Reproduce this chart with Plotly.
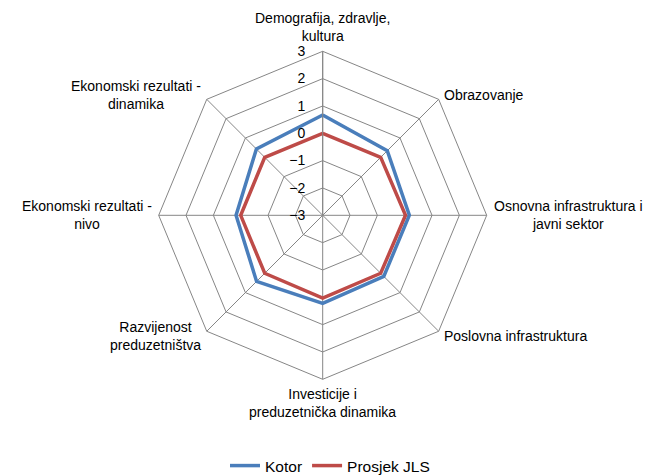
import math
import plotly.graph_objects as go

categories = [
    "Demografija, zdravlje,<br>kultura",
    "Obrazovanje",
    "Osnovna infrastruktura i<br>javni sektor",
    "Poslovna infrastruktura",
    "Investicije i<br>preduzetnička dinamika",
    "Razvijenost<br>preduzetništva",
    "Ekonomski rezultati -<br>nivo",
    "Ekonomski rezultati -<br>dinamika",
]
kotor = [0.67, 0.34, 0.17, 0.16, 0.22, 0.42, 0.17, 0.43]
prosjek = [0.0, 0.0, 0.03, 0.0, 0.03, 0.0, 0.0, 0.0]
radial_ticks = [-3, -2, -1, 0, 1, 2, 3]

fig = go.Figure()
fig.add_trace(go.Scatterpolar(
    r=kotor + kotor[:1], theta=categories + categories[:1],
    mode="lines", name="Kotor",
    line=dict(color="#4A7EBB", width=3.5),
))
fig.add_trace(go.Scatterpolar(
    r=prosjek + prosjek[:1], theta=categories + categories[:1],
    mode="lines", name="Prosjek JLS",
    line=dict(color="#BE4B48", width=3.5),
))

# page body has an 8px margin; compensate so the chart lands where the reference has it
off = 8
W, H = 660, 475
cx, cy, R = 322.7, 215.3, 164  # page-pixel geometry of the radar


def to_paper(px, py):
    return (px - off) / W, (H - (py - off)) / H


x0, y0 = to_paper(cx - R, cy + R)
x1, y1 = to_paper(cx + R, cy - R)

# category labels: centred text blocks placed just outside each spoke's outer vertex
annotations = []
n = len(categories)
pad = 6
for i, cat in enumerate(categories):
    ang = math.radians(90 - i * 360 / n)
    c, s = math.cos(ang), math.sin(ang)
    px = cx + (R + pad) * c
    py = cy - (R + pad) * s
    xa = "left" if c > 0.1 else ("right" if c < -0.1 else "center")
    ya = "bottom" if s > 0.9 else ("top" if s < -0.9 else "middle")
    ax_, ay_ = to_paper(px, py)
    annotations.append(dict(
        text=cat, x=ax_, y=ay_, xref="paper", yref="paper",
        xanchor=xa, yanchor=ya, align="center", showarrow=False,
        font=dict(size=14), borderpad=0,
    ))

fig.update_layout(
    width=W, height=H,
    margin=dict(l=0, r=0, t=0, b=0),
    paper_bgcolor="white",
    font=dict(family="Liberation Sans, Arial, sans-serif", color="#000000", size=14),
    annotations=annotations,
    polar=dict(
        domain=dict(x=[x0, x1], y=[y0, y1]),
        gridshape="linear",
        bgcolor="white",
        radialaxis=dict(
            range=[-3, 3], tickvals=radial_ticks, angle=90, tickangle=90,
            side="counterclockwise",
            showline=True, linecolor="#868686", linewidth=1,
            gridcolor="#868686", gridwidth=1,
            ticks="outside", ticklen=12, tickcolor="rgba(0,0,0,0)",
            tickfont=dict(size=14),
        ),
        angularaxis=dict(
            rotation=90, direction="clockwise",
            showline=True, linecolor="#868686", linewidth=1,
            gridcolor="#868686", gridwidth=1,
            ticks="", showticklabels=False,
        ),
    ),
    legend=dict(
        orientation="h", x=(330 - off) / W, xanchor="center",
        y=(H - (466 - off)) / H, yanchor="middle",
        font=dict(size=15.5), itemwidth=30, tracegroupgap=0,
    ),
)
fig.write_html("out.html")
